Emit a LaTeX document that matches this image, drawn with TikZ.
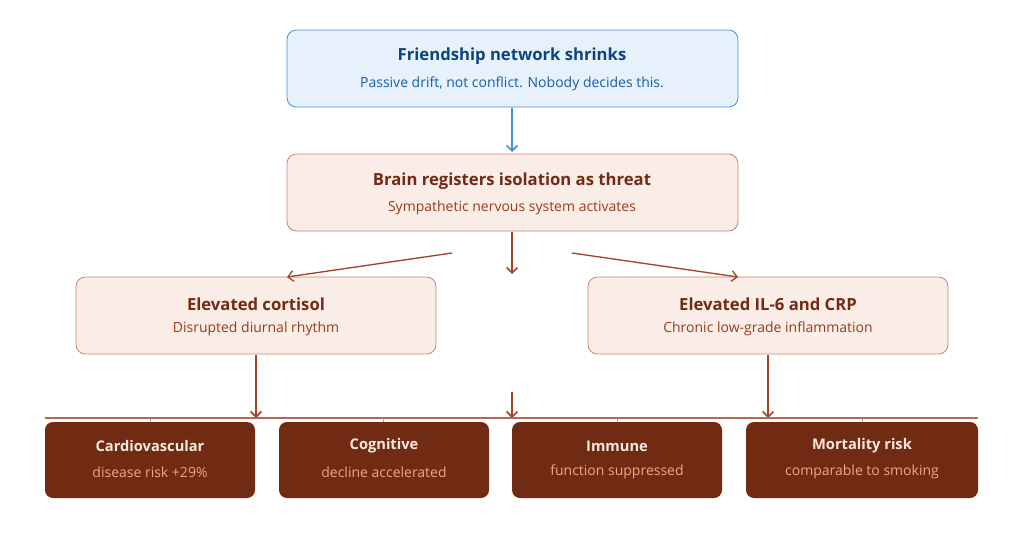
\documentclass[tikz,border=0pt]{standalone}
\usepackage{fontspec}
\setmainfont{Open Sans}
\usetikzlibrary{arrows.meta}
\definecolor{bfill}{HTML}{E6F1FB}\definecolor{bdraw}{HTML}{4C8FD0}
\definecolor{btit}{HTML}{0C447C}\definecolor{bsub}{HTML}{185FA5}
\definecolor{rfill}{HTML}{FAECE7}\definecolor{rdraw}{HTML}{C98470}
\definecolor{rtit}{HTML}{712B13}\definecolor{rsub}{HTML}{993C1D}
\definecolor{dfill}{HTML}{712B13}\definecolor{dtit}{HTML}{F7E8E2}\definecolor{dsub}{HTML}{F2A48A}
\definecolor{arr}{HTML}{A0442A}
\begin{document}
\begin{tikzpicture}[x=0.75pt,y=-0.75pt,
 box/.style={rounded corners=7pt,line width=0.6pt},
 tt/.style={font=\fontsize{12.5}{15}\selectfont\bfseries},
 st/.style={font=\fontsize{10.5}{13}\selectfont},
 dt/.style={font=\fontsize{11}{14}\selectfont\bfseries,text=dtit},
 ds/.style={font=\fontsize{10.5}{13}\selectfont,text=dsub},
 ar/.style={draw=arr,line width=1.2pt,-{Straight Barb[length=4pt,width=8pt]}}]
\useasboundingbox (0,0) rectangle (1024,536);
\draw[box,fill=bfill,draw=bdraw] (287,30) rectangle (738,107);
\node[tt,text=btit] (t1) at (512,56) {Friendship network shrinks};
\node[st,text=bsub] (s1) at (512,84) {Passive drift, not conflict. Nobody decides this.};
\draw[box,fill=rfill,draw=rdraw] (287,154) rectangle (738,231);
\node[tt,text=rtit] (t2) at (512,181) {Brain registers isolation as threat};
\node[st,text=rsub] at (512,208) {Sympathetic nervous system activates};
\draw[box,fill=rfill,draw=rdraw] (76,277) rectangle (436,354);
\node[tt,text=rtit] at (256,304) {Elevated cortisol};
\node[st,text=rsub] at (256,329) {Disrupted diurnal rhythm};
\draw[box,fill=rfill,draw=rdraw] (588,277) rectangle (948,354);
\node[tt,text=rtit] at (768,304) {Elevated IL-6 and CRP};
\node[st,text=rsub] at (768,329) {Chronic low-grade inflammation};
\coordinate (a0) at (512,108); \coordinate (a1) at (512,152);
\draw[draw=bdraw,line width=1.2pt,-{Straight Barb[length=4pt,width=8pt]}] (a0)--(a1);
\coordinate (b0) at (512,232); \coordinate (b1) at (512,274);
\draw[ar] (b0)--(b1);
\coordinate (c0) at (452,253); \coordinate (c1) at (287,277);
\coordinate (e0) at (572,253); \coordinate (e1) at (738,277);
\draw[ar,line width=1pt] (c0)--(c1);
\draw[ar,line width=1pt] (e0)--(e1);
\coordinate (f0) at (256,355); \coordinate (f1) at (256,418);
\coordinate (g0) at (768,355); \coordinate (g1) at (768,418);
\coordinate (h0) at (512,392); \coordinate (h1) at (512,418);
\draw[ar] (f0)--(f1); \draw[ar] (g0)--(g1); \draw[ar] (h0)--(h1);
\coordinate (l0) at (45,418); \coordinate (l1) at (978,418);
\draw[draw=arr!80,line width=0.8pt] (l0)--(l1);
\foreach \x in {150,383,617,862} \draw[draw=arr!60,line width=0.5pt] (\x,418)--(\x,422);
\foreach \a/\b/\t/\s in {45/255/Cardiovascular/disease risk +29\%,279/489/Cognitive/decline accelerated,512/722/Immune/function suppressed,746/978/Mortality risk/comparable to smoking}{
 \fill[dfill,rounded corners=6pt] (\a,422) rectangle (\b,498);
 \node[dt] at ({(\a+\b)/2},446) {\t};
 \node[ds] at ({(\a+\b)/2},472) {\s};}
\end{tikzpicture}
\end{document}
